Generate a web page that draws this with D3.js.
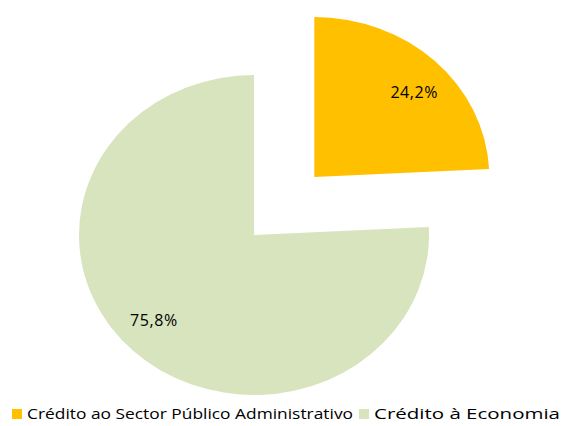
<!DOCTYPE html>
<html>
  <meta charset="utf-8">
  <head>
    <script src="https://d3js.org/d3.v7.min.js"></script>
    <style>
      body { margin: 0; background: #fff; }
      text { font-family: "Open Sans", "DejaVu Sans", sans-serif; fill: #000; }
    </style>
  </head>
  <body>
    <div id="viz"></div>

    <script type="text/javascript">
      // data
      var categories = ["Crédito ao Sector Público Administrativo", "Crédito à Economia"];
      var values = [24.2, 75.8];
      var labels = ["24,2%", "75,8%"];
      var colors = ["#FFC000", "#D7E4BD"];
      var exploded = [true, false];

      var width = 563, height = 426;
      var cx = 254, cy = 235;
      var r = 160;              // vertical radius
      var sx = 175 / 160;       // pie is a bit wider than tall
      var explode = 80;
      var labelR = 125;
      var labelShift = 0.06;    // labels sit a little clockwise of the bisector

      var svg = d3.select("#viz")
        .append("svg")
          .attr("width", width)
          .attr("height", height);

      var pie = d3.pie().sort(null).value((d) => d);
      var arcs = pie(values);

      var arc = d3.arc().innerRadius(0).outerRadius(r);

      function offset(d, i) {
        if (!exploded[i]) return [0, 0];
        var a = (d.startAngle + d.endAngle) / 2;
        return [Math.sin(a) * explode, -Math.cos(a) * explode];
      }

      function labelPos(d, i) {
        var a = (d.startAngle + d.endAngle) / 2 + labelShift;
        var o = offset(d, i);
        return [cx + (Math.sin(a) * labelR + o[0]) * sx, cy - Math.cos(a) * labelR + o[1]];
      }

      var g = svg.append("g")
        .attr("transform", "translate(" + cx + "," + cy + ") scale(" + sx + ",1)");

      g.selectAll("path")
        .data(arcs)
        .enter()
        .append("path")
          .attr("transform", (d, i) => "translate(" + offset(d, i).join(",") + ")")
          .attr("d", arc)
          .attr("fill", (d, i) => colors[i]);

      // labels (outside scaled group so the text isn't stretched)
      svg.selectAll("text.lbl")
        .data(arcs)
        .enter()
        .append("text")
          .attr("class", "lbl")
          .attr("x", (d, i) => labelPos(d, i)[0])
          .attr("y", (d, i) => labelPos(d, i)[1])
          .attr("dy", "0.37em")
          .attr("text-anchor", "middle")
          .style("font-size", "16px")
          .style("letter-spacing", "0.6px")
          .text((d, i) => labels[i]);

      // legend
      var legendX = [12, 359];
      var legendW = [326, 186];
      var legend = svg.selectAll("g.legend")
        .data(categories)
        .enter()
        .append("g")
          .attr("class", "legend")
          .attr("transform", (d, i) => "translate(" + legendX[i] + ",409)");
      legend.append("rect")
        .attr("width", 10)
        .attr("height", 10)
        .attr("fill", (d, i) => colors[i]);
      legend.append("text")
        .attr("x", 15)
        .attr("y", 10)
        .attr("textLength", (d, i) => legendW[i])
        .attr("lengthAdjust", "spacingAndGlyphs")
        .style("font-size", "15px")
        .text((d) => d);
    </script>
  </body>
</html>
